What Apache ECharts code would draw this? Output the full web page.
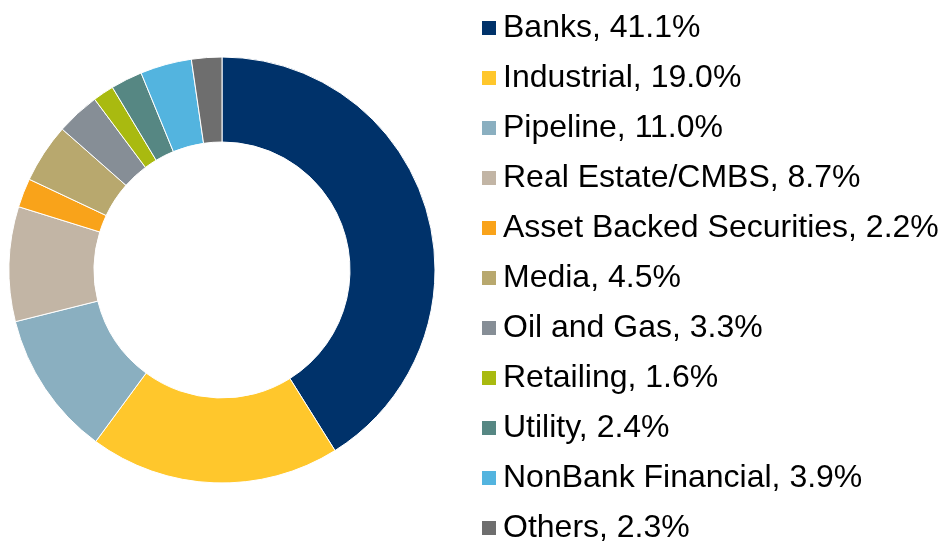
<!DOCTYPE html>
<html>
<head>
<meta charset="utf-8">
<script src="https://cdn.jsdelivr.net/npm/echarts@6/dist/echarts.min.js"></script>
<style>
  html, body { margin: 0; padding: 0; background: #fff; }
  #main { width: 943px; height: 543px; }
</style>
</head>
<body>
<div id="main"></div>
<script>
// 板块名称和占比
var sectors = ['Banks', 'Industrial', 'Pipeline', 'Real Estate/CMBS', 'Asset Backed Securities',
  'Media', 'Oil and Gas', 'Retailing', 'Utility', 'NonBank Financial', 'Others'];
var shares = [41.1, 19.0, 11.0, 8.7, 2.2, 4.5, 3.3, 1.6, 2.4, 3.9, 2.3];
var colors = ['#00326A', '#FFC72C', '#8AAFC0', '#C2B5A5', '#F9A31A',
  '#B8A86E', '#868E96', '#A9BA10', '#568783', '#53B4DF', '#6E6E6E'];

var echar = echarts.init(document.getElementById('main'));
var option = {
  animation: false,
  color: colors,
  legend: {
    orient: 'vertical',
    left: 480,
    top: 11,
    height: 600,
    padding: 0,
    icon: 'rect',
    itemWidth: 16,
    itemHeight: 16,
    itemGap: 16,
    formatter: function (name) {
      var i = sectors.indexOf(name);
      return name + ', ' + shares[i].toFixed(1) + '%';
    },
    textStyle: {
      fontFamily: 'Liberation Sans',
      fontSize: 32,
      lineHeight: 34,
      color: '#000',
      padding: [0, 0, 0, 1]
    },
    data: sectors
  },
  series: [
    {
      type: 'pie',
      center: [222, 270],
      radius: [128, 213],
      startAngle: 90,
      clockwise: true,
      label: { show: false },
      labelLine: { show: false },
      itemStyle: {
        borderColor: '#fff',
        borderWidth: 1
      },
      emphasis: { disabled: true },
      data: sectors.map(function (n, i) {
        return { name: n, value: shares[i] };
      })
    }
  ]
};
echar.setOption(option);
</script>
</body>
</html>
